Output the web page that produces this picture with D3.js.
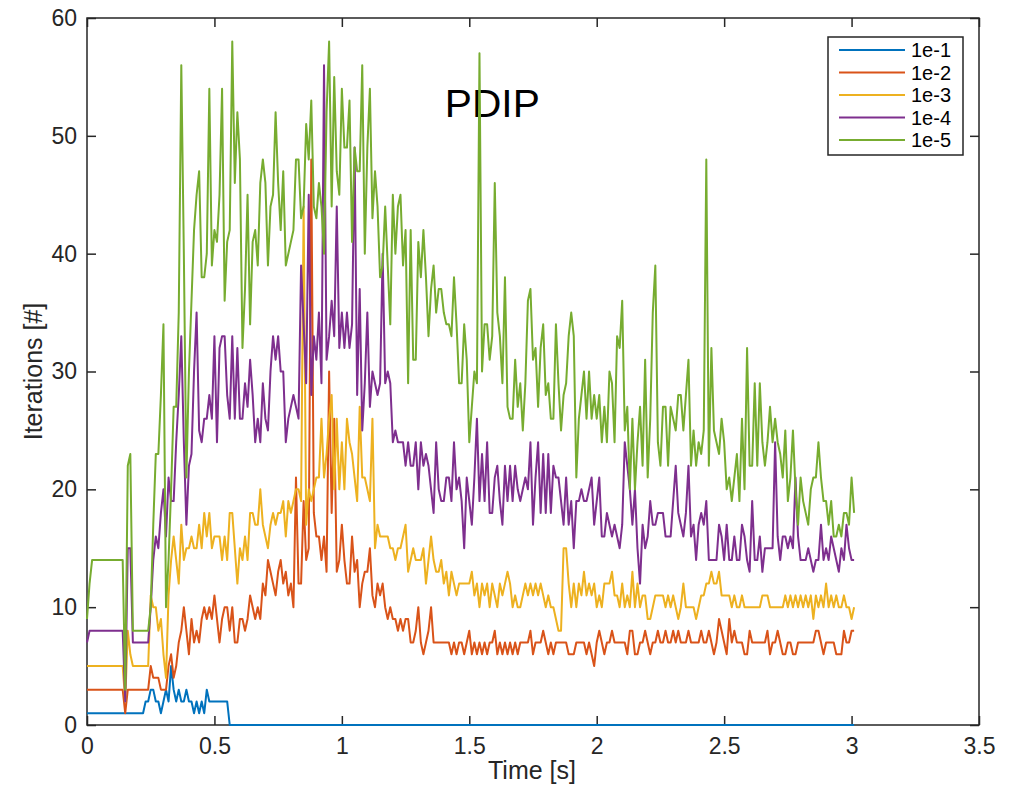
<!DOCTYPE html>
<html>
<head>
<meta charset="utf-8">
<script src="https://d3js.org/d3.v7.min.js"></script>
<style>
  body { margin: 0; background: #fff; }
  svg { display: block; font-family: "Liberation Sans", Arial, Helvetica, sans-serif; }
  .axis text { font-size: 23px; fill: #262626; }
  .axis line { stroke: #262626; stroke-width: 1.5; }
</style>
</head>
<body>
<svg width="1012" height="785"></svg>
<script>
// sample times are 0.00, 0.01, ... 3.01 s
const timeStep = 0.01;

const seriesNames = ["1e-1", "1e-2", "1e-3", "1e-4", "1e-5"];
const seriesColors = ["#0072BD", "#D95319", "#EDB120", "#7E2F8E", "#77AC30"];

const xTicks = [0, 0.5, 1, 1.5, 2, 2.5, 3, 3.5];
const xTickLabels = ["0", "0.5", "1", "1.5", "2", "2.5", "3", "3.5"];
const yTicks = [0, 10, 20, 30, 40, 50, 60];
const yTickLabels = ["0", "10", "20", "30", "40", "50", "60"];

// iterations per time step
const tol1 = [
  1,1,1,1,1,1,1,1,1,1, 1,1,1,1,1,1,1,1,1,1, 1,1,1,2,2,3,3,2,2,1,
  2,3,2,5,3,2,3,2,2,3, 2,2,1,2,1,2,1,3,2,2, 2,2,2,2,2,2,0,0,0,0,
  0,0,0,0,0,0,0,0,0,0, 0,0,0,0,0,0,0,0,0,0, 0,0,0,0,0,0,0,0,0,0,
  0,0,0,0,0,0,0,0,0,0, 0,0,0,0,0,0,0,0,0,0, 0,0,0,0,0,0,0,0,0,0,
  0,0,0,0,0,0,0,0,0,0, 0,0,0,0,0,0,0,0,0,0, 0,0,0,0,0,0,0,0,0,0,
  0,0,0,0,0,0,0,0,0,0, 0,0,0,0,0,0,0,0,0,0, 0,0,0,0,0,0,0,0,0,0,
  0,0,0,0,0,0,0,0,0,0, 0,0,0,0,0,0,0,0,0,0, 0,0,0,0,0,0,0,0,0,0,
  0,0,0,0,0,0,0,0,0,0, 0,0,0,0,0,0,0,0,0,0, 0,0,0,0,0,0,0,0,0,0,
  0,0,0,0,0,0,0,0,0,0, 0,0,0,0,0,0,0,0,0,0, 0,0,0,0,0,0,0,0,0,0,
  0,0,0,0,0,0,0,0,0,0, 0,0,0,0,0,0,0,0,0,0, 0,0,0,0,0,0,0,0,0,0,
  0,0
];
const tol2 = [
  3,3,3,3,3,3,3,3,3,3, 3,3,3,3,3,1,3,3,3,3, 3,3,3,3,3,5,4,4,4,3,
  3,3,5,6,4,5,7,8,10,8, 6,9,7,8,7,9,10,9,10,9, 11,9,7,9,10,10,8,10,7,7,
  9,9,8,9,11,10,9,10,9,12, 11,14,13,12,11,13,14,12,13,11, 12,10,21,12,12,19,14,15,48,18,
  16,16,14,16,13,30,18,26,13,14, 17,14,12,12,16,13,14,10,12,13, 13,15,11,10,12,11,12,10,9,10,
  9,9,8,9,8,9,9,7,7,8, 10,7,6,7,8,10,7,7,7,7, 7,7,7,6,7,6,7,7,6,7,
  8,6,7,6,7,6,7,6,7,7, 8,6,7,6,7,6,7,6,7,6, 7,7,7,7,8,6,7,7,7,8,
  7,6,7,6,7,7,7,7,7,6, 6,6,7,7,7,7,6,7,6,5, 7,8,7,6,7,7,8,7,7,7,
  7,7,6,8,8,6,6,7,7,8, 7,6,7,7,8,7,7,8,7,7, 8,7,8,7,7,7,8,7,7,7,
  7,8,7,7,8,7,6,7,9,8, 7,6,9,7,8,7,7,7,6,6, 8,7,7,7,7,7,7,8,6,7,
  7,8,7,6,6,7,7,6,6,7, 7,7,7,7,7,7,8,8,7,6, 7,7,7,7,6,6,6,8,7,7,
  8,8
];
const tol3 = [
  5,5,5,5,5,5,5,5,5,5, 5,5,5,5,5,2,8,6,5,5, 5,5,5,5,5,11,10,10,8,9,
  6,4,11,14,16,14,12,17,14,15, 15,16,15,15,17,15,18,16,18,15, 16,16,16,14,16,14,18,18,15,12,
  15,14,16,14,18,18,17,17,20,17, 16,15,17,18,17,18,18,19,16,19, 18,19,20,20,19,44,17,20,19,20,
  21,21,26,21,23,26,28,20,26,20, 24,20,26,24,23,21,19,27,21,21, 20,19,26,15,17,16,16,16,16,15,
  15,14,15,15,16,17,13,14,15,14, 14,14,15,12,14,16,14,13,13,14, 12,13,11,13,12,11,12,12,12,12,
  12,13,11,12,10,12,11,12,10,12, 11,10,12,11,12,13,12,10,11,10, 10,11,12,11,12,11,12,11,12,11,
  10,11,10,10,9,8,8,15,15,12, 10,12,10,12,11,13,11,12,11,12, 10,11,10,12,12,12,13,11,11,10,
  12,10,11,10,13,10,12,10,11,11, 9,9,10,11,11,11,11,10,11,10, 11,10,9,10,12,10,10,10,10,9,
  10,11,11,12,12,13,12,12,13,11, 11,11,11,10,11,10,10,11,10,10, 10,10,10,10,10,11,11,11,10,10,
  10,10,10,10,11,10,11,10,11,10, 11,10,11,10,11,9,11,10,11,10, 12,10,11,10,11,10,10,11,10,10,
  9,10
];
const tol4 = [
  7,8,8,8,8,8,8,8,8,8, 8,8,8,8,8,2,15,15,7,7, 7,7,7,7,7,10,14,16,15,18,
  20,16,21,19,19,24,28,33,24,17, 22,23,30,35,25,24,26,26,28,26, 33,24,32,33,33,28,26,33,26,32,
  26,26,29,27,31,28,24,26,24,29, 26,25,30,33,31,33,30,30,24,26, 27,28,27,26,39,34,29,45,28,33,
  31,35,29,56,31,33,36,33,44,32, 35,32,35,32,34,49,28,37,25,29, 35,27,30,29,28,29,40,29,30,29,
  24,25,24,24,24,22,24,22,22,24, 20,24,22,23,22,20,18,24,20,19, 19,21,21,19,24,20,21,19,15,21,
  19,17,21,26,19,23,19,24,18,18, 21,22,19,17,22,19,22,19,22,20, 19,20,21,20,24,17,21,24,18,23,
  18,23,18,22,21,21,19,17,21,17, 19,15,19,19,20,19,19,20,21,17, 19,21,16,16,18,17,16,17,16,15,
  17,24,22,20,17,20,15,12,17,15, 16,19,17,17,18,18,18,16,16,16, 19,22,18,17,16,18,22,16,17,14,
  17,18,17,19,14,14,14,14,17,16, 14,17,14,14,16,14,14,17,16,14, 13,19,14,14,16,13,15,15,15,15,
  24,16,14,16,16,15,16,15,21,16, 14,14,14,15,14,13,14,14,17,14, 15,14,16,15,14,13,15,14,17,15,
  14,14
];
const tol5 = [
  9,12,14,14,14,14,14,14,14,14, 14,14,14,14,14,3,22,23,8,8, 8,8,8,8,8,10,17,23,23,28,
  34,10,14,20,27,27,35,56,40,21, 30,36,42,45,47,38,38,40,54,39, 42,41,45,54,36,41,42,58,46,52,
  48,32,37,45,34,41,42,39,46,48, 46,39,44,45,52,46,42,47,39,40, 41,42,48,48,43,44,51,48,53,44,
  43,46,44,40,52,58,44,55,47,45, 54,49,49,53,41,49,47,47,56,40, 49,54,43,47,44,38,39,44,39,34,
  45,40,44,45,39,42,29,42,31,31, 41,38,42,38,33,37,39,35,37,37, 35,34,34,33,38,34,29,29,34,31,
  24,27,30,29,57,30,34,34,31,33, 46,35,33,29,38,27,26,26,31,27, 29,25,29,36,37,31,32,27,32,34,
  28,29,26,26,34,29,25,28,29,33, 35,33,21,26,28,30,26,30,26,28, 26,28,24,27,24,30,29,24,33,32,
  36,25,27,20,26,20,24,27,22,31, 21,26,35,39,24,22,27,27,22,27, 26,25,28,28,25,28,31,22,25,22,
  24,23,25,48,22,32,25,24,23,26, 24,20,21,19,21,23,19,26,20,32, 22,22,29,22,29,24,22,24,27,24,
  26,24,23,21,25,19,21,25,20,17, 21,19,18,17,20,21,21,24,21,19, 19,17,19,16,16,17,16,18,18,17,
  21,18
];

const seriesValues = [tol1, tol2, tol3, tol4, tol5];

const svg = d3.select("svg");
const plotLeft = 87, plotRight = 979, plotTop = 18, plotBottom = 725;

const x = d3.scaleLinear().domain([0, 3.5]).range([plotLeft, plotRight]);
const y = d3.scaleLinear().domain([0, 60]).range([plotBottom, plotTop]);

// axes (ticks point inward, labels only on bottom and left)
svg.append("g").attr("class", "axis")
  .attr("transform", "translate(0," + plotBottom + ")")
  .call(d3.axisBottom(x).tickValues(xTicks).tickFormat((d, i) => xTickLabels[i])
    .tickSizeInner(-9).tickSizeOuter(0).tickPadding(12))
  .call(g => g.select(".domain").remove())
  .selectAll("text").attr("dy", "0.72em");

svg.append("g").attr("class", "axis")
  .attr("transform", "translate(0," + plotTop + ")")
  .call(d3.axisTop(x).tickValues(xTicks).tickFormat("").tickSizeInner(-9).tickSizeOuter(0))
  .call(g => g.select(".domain").remove());

svg.append("g").attr("class", "axis")
  .attr("transform", "translate(" + plotLeft + ",0)")
  .call(d3.axisLeft(y).tickValues(yTicks).tickFormat((d, i) => yTickLabels[i])
    .tickSizeInner(-9).tickSizeOuter(0).tickPadding(10))
  .call(g => g.select(".domain").remove());

svg.append("g").attr("class", "axis")
  .attr("transform", "translate(" + plotRight + ",0)")
  .call(d3.axisRight(y).tickValues(yTicks).tickFormat("").tickSizeInner(-9).tickSizeOuter(0))
  .call(g => g.select(".domain").remove());

// box
svg.append("rect")
  .attr("x", plotLeft).attr("y", plotTop)
  .attr("width", plotRight - plotLeft).attr("height", plotBottom - plotTop)
  .attr("fill", "none").attr("stroke", "#262626").attr("stroke-width", 1.5);

// axis labels
svg.append("text")
  .attr("x", (plotLeft + plotRight) / 2 - 1).attr("y", 779)
  .attr("text-anchor", "middle").attr("font-size", 25).attr("fill", "#262626")
  .text("Time [s]");

svg.append("text")
  .attr("transform", "translate(42," + (plotTop + plotBottom) / 2 + ") rotate(-90)")
  .attr("text-anchor", "middle").attr("font-size", 25).attr("fill", "#262626")
  .text("Iterations [#]");

// in-plot title (lines are drawn over it)
svg.append("text")
  .attr("x", x(1.404)).attr("y", 117)
  .attr("font-size", 38).attr("fill", "#000")
  .attr("textLength", 95).attr("lengthAdjust", "spacingAndGlyphs")
  .text("PDIP");

// data lines
const line = d3.line()
  .x((d, i) => x(i * timeStep))
  .y(d => y(d));

svg.append("g")
  .selectAll("path")
  .data(seriesValues)
  .join("path")
  .attr("d", d => line(d))
  .attr("fill", "none")
  .attr("stroke", (d, i) => seriesColors[i])
  .attr("stroke-width", 2)
  .attr("stroke-linejoin", "round");

// legend
const legend = svg.append("g");
legend.append("rect")
  .attr("x", 828).attr("y", 37)
  .attr("width", 135).attr("height", 118)
  .attr("fill", "#fff").attr("stroke", "#262626").attr("stroke-width", 1.5);

const rows = legend.selectAll("g.row")
  .data(seriesNames)
  .join("g")
  .attr("class", "row")
  .attr("transform", (d, i) => "translate(0," + (50 + i * 22.5) + ")");

rows.append("line")
  .attr("x1", 839).attr("x2", 905)
  .attr("stroke", (d, i) => seriesColors[i]).attr("stroke-width", 2);

rows.append("text")
  .attr("x", 911).attr("dy", "0.35em")
  .attr("font-size", 20).attr("fill", "#000")
  .text(d => d);
</script>
</body>
</html>
